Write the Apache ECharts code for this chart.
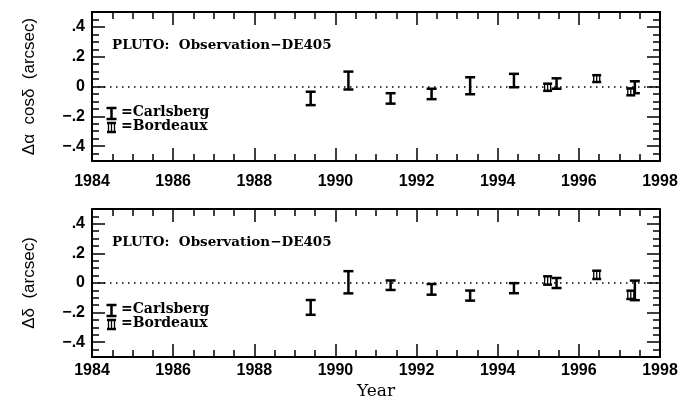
<!DOCTYPE html>
<html>
<head>
<meta charset="utf-8">
<script src="https://cdn.jsdelivr.net/npm/echarts@6/dist/echarts.min.js"></script>
<style>
  html, body { margin: 0; padding: 0; background: #fff; }
  #chart { width: 693px; height: 403px; }
</style>
</head>
<body>
<div id="chart"></div>
<script>
// Carlsberg meridian circle observations
const carlYears  = [1989.39, 1990.32, 1991.36, 1992.37, 1993.32, 1994.40, 1995.45, 1997.38];
const carlRA     = [-0.08, 0.04, -0.08, -0.05, 0.005, 0.04, 0.02, -0.005];
const carlRAErr  = [0.045, 0.06, 0.035, 0.035, 0.057, 0.045, 0.035, 0.04];
const carlDec    = [-0.165, 0.005, -0.015, -0.043, -0.085, -0.035, 0.0, -0.05];
const carlDecErr = [0.05, 0.075, 0.032, 0.036, 0.034, 0.034, 0.034, 0.066];

// Bordeaux observations
const bordYears  = [1995.23, 1996.44, 1997.28];
const bordRA     = [-0.005, 0.053, -0.036];
const bordRAErr  = [0.024, 0.023, 0.023];
const bordDec    = [0.017, 0.055, -0.08];
const bordDecErr = [0.028, 0.028, 0.028];

const yMajor = [-0.4, -0.2, 0, 0.2, 0.4];

const chart = echarts.init(document.getElementById('chart'));
const tickFont = { fontFamily: 'Liberation Sans', fontWeight: 'bold', fontSize: 16, color: '#000' };

function fmtY(v) {
  if (Math.abs(v) < 1e-9) return '0';
  return (v < 0 ? '−' : '') + Math.abs(v).toFixed(1).replace(/^0/, '');
}

// error bar shapes, used for the data and for the legend
function barShapes(cx, yTop, yBot, kind) {
  const out = [];
  if (kind === 'c') {
    const hw = 5;
    const st = { stroke: '#000', lineWidth: 2.5 };
    out.push({ type: 'line', shape: { x1: cx, y1: yTop, x2: cx, y2: yBot }, style: st });
    out.push({ type: 'line', shape: { x1: cx - hw, y1: yTop, x2: cx + hw, y2: yTop }, style: st });
    out.push({ type: 'line', shape: { x1: cx - hw, y1: yBot, x2: cx + hw, y2: yBot }, style: st });
  } else {
    const hw = 4.5;
    const st = { stroke: '#000', lineWidth: 2.5 };
    out.push({ type: 'rect', shape: { x: cx - 3, y: yTop, width: 6, height: yBot - yTop },
      style: { fill: '#fff', stroke: '#000', lineWidth: 1.3 } });
    out.push({ type: 'line', shape: { x1: cx, y1: yTop, x2: cx, y2: yBot }, style: { stroke: '#000', lineWidth: 1.3 } });
    out.push({ type: 'line', shape: { x1: cx - hw, y1: yTop, x2: cx + hw, y2: yTop }, style: st });
    out.push({ type: 'line', shape: { x1: cx - hw, y1: yBot, x2: cx + hw, y2: yBot }, style: st });
  }
  return out;
}

function renderBar(kind) {
  return function (params, api) {
    const x = api.value(0), y = api.value(1), e = api.value(2);
    const t = api.coord([x, y + e]);
    const b = api.coord([x, y - e]);
    return { type: 'group', children: barShapes(t[0], t[1], b[1], kind) };
  };
}

function xAxes(gi, labelMargin) {
  const common = {
    type: 'value', gridIndex: gi, min: 1984, max: 1998, interval: 2,
    splitLine: { show: false },
    axisLine: { onZero: false, lineStyle: { color: '#000', width: 2 } },
    axisTick: { inside: true, length: 13, lineStyle: { color: '#000', width: 1.5 } },
    minorTick: { show: true, splitNumber: 4, length: 7, lineStyle: { color: '#000', width: 1.5 } }
  };
  return [
    Object.assign({}, common, {
      position: 'bottom',
      axisLabel: Object.assign({ margin: labelMargin, formatter: v => String(v) }, tickFont)
    }),
    Object.assign({}, common, { position: 'top', axisLabel: { show: false } })
  ];
}

function yAxes(gi, name) {
  const base = {
    type: 'value', gridIndex: gi, min: -0.5, max: 0.5, splitLine: { show: false }
  };
  return [
    // data axis: minor ticks every 0.05
    Object.assign({}, base, {
      position: 'left', interval: 0.05,
      axisLine: { onZero: false, lineStyle: { color: '#000', width: 2 } },
      axisTick: { inside: true, length: 7, lineStyle: { color: '#000', width: 1.5 } },
      axisLabel: { show: false },
      name: name, nameLocation: 'middle', nameGap: 54,
      nameTextStyle: { fontFamily: 'Liberation Sans', fontSize: 17, color: '#000' }
    }),
    Object.assign({}, base, {
      position: 'left',
      axisLine: { show: false, onZero: false },
      axisTick: { inside: true, length: 13, customValues: yMajor, lineStyle: { color: '#000', width: 1.5 } },
      axisLabel: Object.assign({ margin: 7, customValues: yMajor, formatter: fmtY }, tickFont)
    }),
    Object.assign({}, base, {
      position: 'right', interval: 0.05,
      axisLine: { onZero: false, lineStyle: { color: '#000', width: 2 } },
      axisTick: { inside: true, length: 7, lineStyle: { color: '#000', width: 1.5 } },
      axisLabel: { show: false }
    }),
    Object.assign({}, base, {
      position: 'right',
      axisLine: { show: false, onZero: false },
      axisTick: { inside: true, length: 13, customValues: yMajor, lineStyle: { color: '#000', width: 1.5 } },
      axisLabel: { show: false }
    })
  ];
}

const zeroLine = {
  silent: true, symbol: 'none', label: { show: false },
  lineStyle: { color: '#000', type: [1.5, 4.5], width: 1.5 },
  data: [{ yAxis: 0 }]
};

function series(gi, years, vals, errs, kind, withZero) {
  const s = {
    type: 'custom', xAxisIndex: gi * 2, yAxisIndex: gi * 4,
    renderItem: renderBar(kind),
    encode: { x: 0, y: 1 },
    data: years.map((x, i) => [x, vals[i], errs[i]]),
    z: 5
  };
  if (withZero) s.markLine = zeroLine;
  return s;
}

const titleStyle = { fontFamily: 'DejaVu Serif', fontSize: 13.5, fontWeight: 'bold', fill: '#000' };
const legStyle = { fontFamily: 'DejaVu Serif', fontSize: 14, fill: '#000', fontWeight: 'bold' };

function legend(y0) {
  return [
    { type: 'group', children: barShapes(111.5, y0 - 6, y0 + 5, 'c') },
    { type: 'text', left: 121, top: y0 - 9, style: Object.assign({ text: '=Carlsberg' }, legStyle) },
    { type: 'group', children: barShapes(111.5, y0 + 9, y0 + 18, 'b') },
    { type: 'text', left: 121, top: y0 + 5, style: Object.assign({ text: '=Bordeaux' }, legStyle) }
  ];
}

chart.setOption({
  animation: false,
  backgroundColor: '#fff',
  grid: [
    { left: 92, width: 568, top: 12, height: 149 },
    { left: 92, width: 568, top: 209, height: 148 }
  ],
  xAxis: [].concat(xAxes(0, 13), xAxes(1, 6)).map((a, i) => {
    if (i === 2) {
      a.name = 'Year';
      a.nameLocation = 'middle';
      a.nameGap = 26;
      a.nameTextStyle = { fontFamily: 'DejaVu Serif', fontSize: 17, color: '#000' };
    }
    return a;
  }),
  yAxis: [].concat(yAxes(0, 'Δα  cosδ  (arcsec)'), yAxes(1, 'Δδ  (arcsec)')),
  series: [
    series(0, carlYears, carlRA, carlRAErr, 'c', true),
    series(0, bordYears, bordRA, bordRAErr, 'b', false),
    series(1, carlYears, carlDec, carlDecErr, 'c', true),
    series(1, bordYears, bordDec, bordDecErr, 'b', false)
  ],
  graphic: [
    { type: 'text', left: 112, top: 38, style: Object.assign({ text: 'PLUTO:  Observation−DE405' }, titleStyle) },
    { type: 'text', left: 112, top: 235, style: Object.assign({ text: 'PLUTO:  Observation−DE405' }, titleStyle) }
  ].concat(legend(114), legend(311))
});
</script>
</body>
</html>
